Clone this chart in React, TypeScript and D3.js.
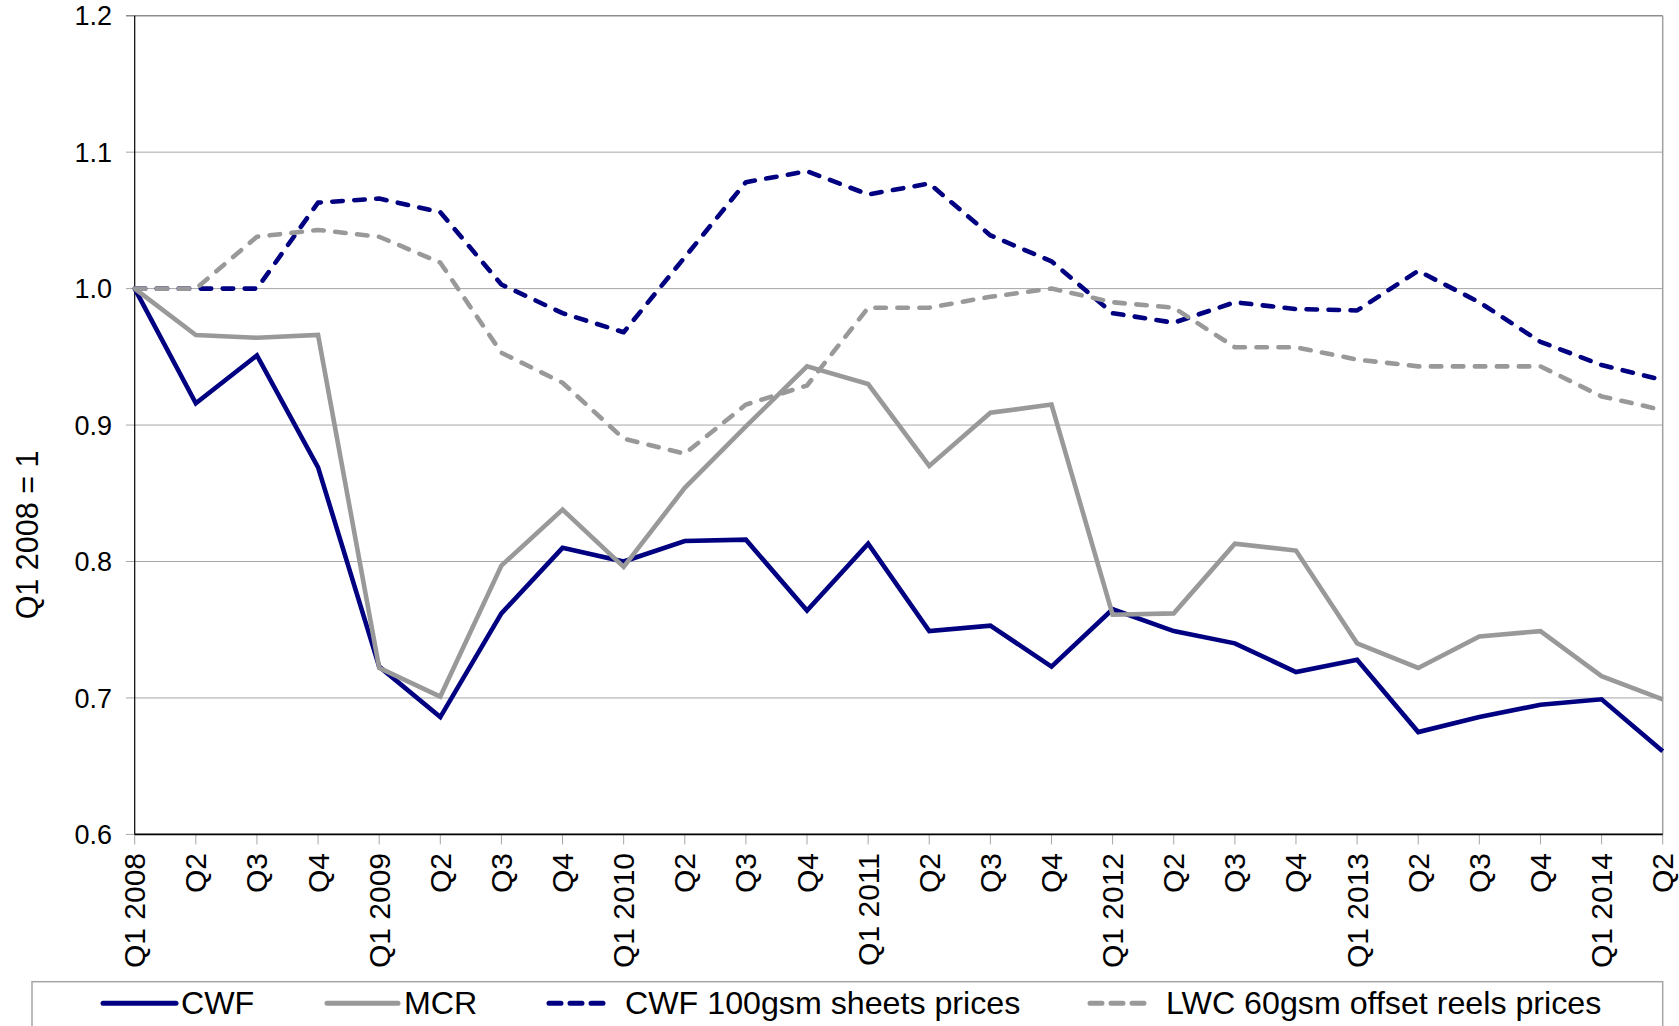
import React from "react";
import * as d3 from "d3";

const quarters = ["Q1 2008","Q2","Q3","Q4","Q1 2009","Q2","Q3","Q4","Q1 2010","Q2","Q3","Q4","Q1 2011","Q2","Q3","Q4","Q1 2012","Q2","Q3","Q4","Q1 2013","Q2","Q3","Q4","Q1 2014","Q2"];
const cwf = [1.0,0.916,0.951,0.869,0.723,0.686,0.762,0.810,0.800,0.815,0.816,0.764,0.813,0.749,0.753,0.723,0.765,0.749,0.740,0.719,0.728,0.675,0.686,0.695,0.699,0.661];
const mcr = [1.0,0.966,0.964,0.966,0.722,0.701,0.797,0.838,0.796,0.854,0.899,0.943,0.930,0.870,0.909,0.915,0.761,0.762,0.813,0.808,0.740,0.722,0.745,0.749,0.716,0.699];
const cwf100 = [1.0,1.0,1.0,1.063,1.066,1.056,1.003,0.982,0.968,1.023,1.078,1.086,1.069,1.077,1.039,1.020,0.982,0.975,0.990,0.985,0.984,1.013,0.990,0.961,0.944,0.933];
const lwc60 = [1.0,1.0,1.038,1.043,1.038,1.019,0.953,0.931,0.890,0.879,0.915,0.929,0.986,0.986,0.994,1.000,0.990,0.986,0.957,0.957,0.948,0.943,0.943,0.943,0.921,0.911];
const yTicks = [0.6,0.7,0.8,0.9,1.0,1.1,1.2];
const seriesNames = ["CWF","MCR","CWF 100gsm sheets prices","LWC 60gsm offset reels prices"];

const NAVY = "#000080";
const GRAY = "#999999";
const FONT = "'Liberation Sans', Arial, Helvetica, sans-serif";

const series = [
  { name: seriesNames[0], values: cwf, color: NAVY, dashed: false },
  { name: seriesNames[1], values: mcr, color: GRAY, dashed: false },
  { name: seriesNames[2], values: cwf100, color: NAVY, dashed: true },
  { name: seriesNames[3], values: lwc60, color: GRAY, dashed: true },
];

const legendLayout = [
  { x0: 103, x1: 176, tx: 181 },
  { x0: 327, x1: 398, tx: 404 },
  { x0: 549, x1: 608, tx: 625 },
  { x0: 1090, x1: 1149, tx: 1166 },
];

export default function App() {
  const left = 134.7, right = 1662.7, top = 15.7, bottom = 834.4;
  const x = d3.scalePoint<number>().domain(quarters.map((_, i) => i)).range([left, right]);
  const y = d3.scaleLinear().domain([0.6, 1.2]).range([bottom, top]);
  const line = d3.line<number>().x((_, i) => x(i) as number).y((d) => y(d));

  return (
    <svg width={1679} height={1026} style={{ position: "absolute", left: 0, top: 0, display: "block", background: "#fff" }} fontFamily={FONT}>
      <rect x={0} y={0} width={1679} height={1026} fill="#fff" />
      {/* gridlines */}
      {yTicks.map((t) => (
        <g key={t}>
          <line x1={126} x2={right} y1={y(t)} y2={y(t)} stroke={t === 1.2 ? "#8c8c8c" : "#a6a6a6"} strokeWidth={t === 1.2 ? 1.5 : 1} />
          <text x={112} y={y(t)} dy="0.36em" textAnchor="end" fontSize={27} fill="#000">{t.toFixed(1)}</text>
        </g>
      ))}
      {/* right border */}
      <line x1={right} x2={right} y1={top} y2={bottom} stroke="#a0a0a0" strokeWidth={1.5} />
      {/* x ticks */}
      {quarters.map((_, i) => (
        <line key={"t" + i} x1={x(i)} x2={x(i)} y1={bottom} y2={bottom + 10} stroke="#a6a6a6" strokeWidth={1} />
      ))}
      {/* axes */}
      <line x1={left} x2={left} y1={top} y2={bottom} stroke="#000" strokeWidth={1.2} />
      <line x1={left} x2={right} y1={bottom} y2={bottom} stroke="#000" strokeWidth={1.6} />
      {/* x labels */}
      {quarters.map((q, i) => (
        <text key={"l" + i} transform={`translate(${(x(i) as number) + 10.5},${853}) rotate(-90)`} textAnchor="end" fontSize={30} fill="#000">{q}</text>
      ))}
      {/* y title */}
      <text transform={`translate(38,535) rotate(-90)`} textAnchor="middle" fontSize={30.5} fill="#000">Q1 2008 = 1</text>
      {/* series */}
      {series.map((s) => (
        <path key={s.name} d={line(s.values) || ""} fill="none" stroke={s.color} strokeWidth={4.6}
          strokeDasharray={s.dashed ? "10.5 11.5" : undefined}
          strokeLinecap={s.dashed ? "round" : "butt"} strokeLinejoin={s.dashed ? "round" : "miter"} />
      ))}
      {/* legend */}
      <rect x={32} y={981.7} width={right - 32} height={60} fill="none" stroke="#a6a6a6" strokeWidth={1.5} />
      {series.map((s, i) => {
        const L = legendLayout[i];
        return (
          <g key={"lg" + i}>
            <line x1={L.x0} x2={L.x1} y1={1003.3} y2={1003.3} stroke={s.color} strokeWidth={5}
              strokeLinecap="round" strokeDasharray={s.dashed ? "12 9" : undefined} />
            <text x={L.tx} y={1014} fontSize={32.2} fill="#000">{s.name}</text>
          </g>
        );
      })}
    </svg>
  );
}
